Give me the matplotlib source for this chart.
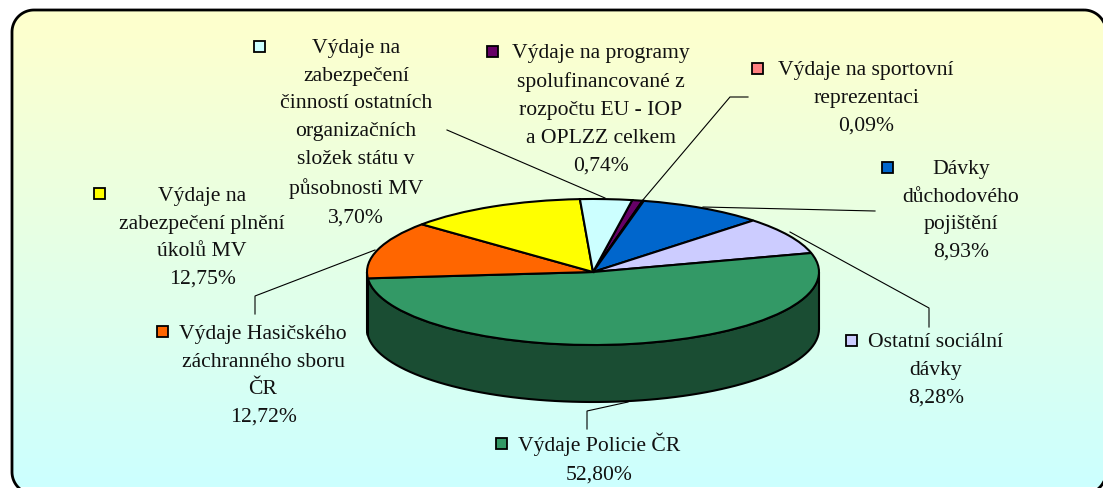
import numpy as np
import matplotlib
matplotlib.use("Agg")
import matplotlib.pyplot as plt
from matplotlib.colors import LinearSegmentedColormap, to_rgb
from matplotlib.patches import Polygon, Rectangle

categories = [
    "Výdaje na programy\nspolufinancované z\nrozpočtu EU - IOP\na OPLZZ celkem",
    "Výdaje na sportovní\nreprezentaci",
    "Dávky\ndůchodového\npojištění",
    "Ostatní sociální\ndávky",
    "Výdaje Policie ČR",
    "Výdaje Hasičského\nzáchranného sboru\nČR",
    "Výdaje na\nzabezpečení plnění\núkolů MV",
    "Výdaje na\nzabezpečení\nčinností ostatních\norganizačních\nsložek státu v\npůsobnosti MV",
]
values = [0.74, 0.09, 8.93, 8.28, 52.80, 12.72, 12.75, 3.70]
colors = ["#660066", "#FF8080", "#0066CC", "#CCCCFF", "#339966", "#FF6600", "#FFFF00", "#CCFFFF"]

W, H = 1103, 489
plt.rcParams["font.family"] = ["Liberation Serif", "DejaVu Serif"]
fig = plt.figure(figsize=(W / 100, H / 100), dpi=100)

# pixel-coordinate background with rounded gradient panel
bg = fig.add_axes([0, 0, 1, 1])
bg.axis("off")
L, T, R, B, rad = 12, 11, 1106, 495, 22
pts = []
for ccx, ccy, a0 in [(R - rad, T + rad, -90), (R - rad, B - rad, 0), (L + rad, B - rad, 90), (L + rad, T + rad, 180)]:
    t = np.radians(np.linspace(a0, a0 + 90, 24))
    pts.extend(zip(ccx + rad * np.cos(t), ccy + rad * np.sin(t)))
box = Polygon(pts, closed=True, fc="none", ec="#000000", lw=2.0, zorder=3, clip_on=False, joinstyle="round")
bg.add_patch(box)
cmap = LinearSegmentedColormap.from_list("g", ["#FFFFCC", "#CCFFFF"])
im = bg.imshow(np.linspace(0, 1, 256)[:, None], cmap=cmap, extent=(0, W + 10, 488, 11), aspect="auto", zorder=1)
bg.set_xlim(0, W); bg.set_ylim(H, 0)
im.set_clip_path(box)

# pie
cx, cy, rx, ry, depth = 593, 273, 226, 73, 57
ax = fig.add_axes([(cx - rx) / W, (H - cy - ry) / H, 2 * rx / W, 2 * ry / H])
ax.set_zorder(2)
start = 80
ax.pie(values, colors=colors, startangle=start, counterclock=False, radius=1,
       wedgeprops=dict(edgecolor="black", linewidth=1.5, zorder=3), normalize=True)
ax.set_aspect("auto"); ax.set_xlim(-1, 1); ax.set_ylim(-1, 1)
d = depth / ry
total = sum(values)
a = start
for v, c in zip(values, colors):
    a2 = a - 360 * v / total
    for shift in (0, -360, 360):
        lo = max(a2 + shift, -180); hi = min(a + shift, 0)
        if lo < hi:
            t = np.radians(np.linspace(hi, lo, 80))
            xs = np.cos(t); ys = np.sin(t)
            ax.fill(np.r_[xs, xs[::-1]], np.r_[ys, ys[::-1] - d],
                    fc=tuple(0.5 * x for x in to_rgb(c)), ec="black", lw=1.5,
                    zorder=2, clip_on=False)
    a = a2

# overlay for leaders, keys, labels
ov = fig.add_axes([0, 0, 1, 1])
ov.set_zorder(3); ov.patch.set_alpha(0)
ov.set_xlim(0, W); ov.set_ylim(H, 0); ov.axis("off")

leaders = [
    ([447, 605], [131, 199]),
    ([642, 730, 748], [202, 98, 98]),
    ([703, 875], [208, 212]),
    ([790, 929, 929], [233, 309, 328]),
    ([628, 587, 587], [403, 412, 430]),
    ([375, 255, 255], [251, 297, 315]),
]
for xs, ys in leaders:
    ov.plot(xs, ys, color="black", lw=0.8, solid_joinstyle="miter")

keys = [(492, 52), (757, 69), (887, 168), (851, 341), (501, 444), (162, 332), (99, 194), (259, 47)]
for (kx, ky), c in zip(keys, colors):
    ov.add_patch(Rectangle((kx - 5.5, ky - 5.5), 11, 11, fc=c, ec="black", lw=1.3))

label_pos = [(601, 52), (866, 69), (961, 168), (936, 341), (599, 441), (263, 333), (202, 195), (356, 47)]
for name, v, (tx, ty) in zip(categories, values, label_pos):
    s = name + "\n" + f"{v:.2f}".replace(".", ",") + "%"
    ov.text(tx, ty - 8, s, ha="center", va="top", fontsize=15.6, color="#111111", linespacing=1.62)

fig.savefig("out.png", dpi=100)
